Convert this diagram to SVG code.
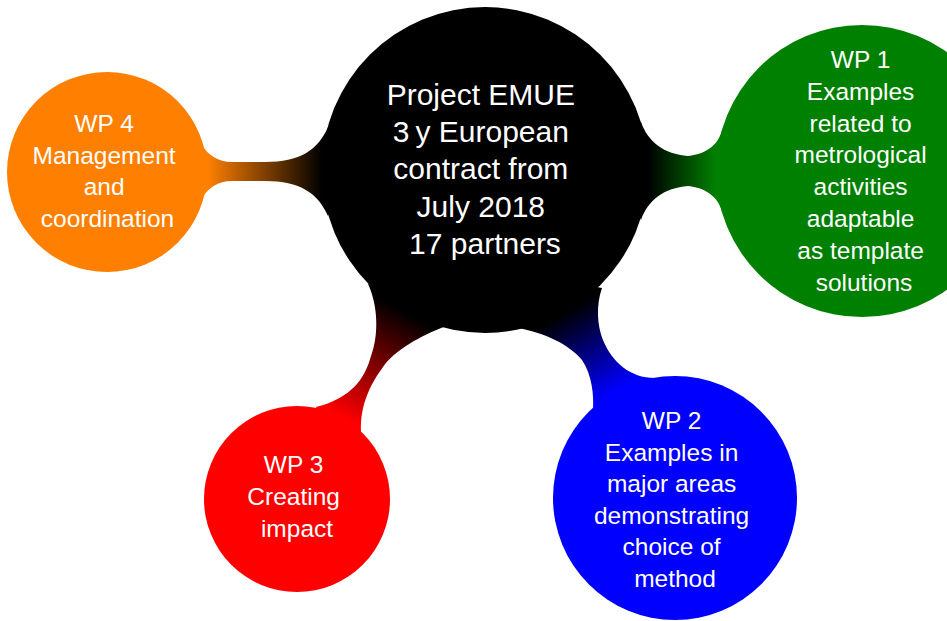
<svg xmlns="http://www.w3.org/2000/svg" width="947" height="621" viewBox="0 0 947 621">
  <defs>
    <style>
      .label { font-family: "Liberation Sans", Arial, sans-serif; fill: #ffffff; text-anchor: middle; }
      .root { font-size: 30px; }
      .child { font-size: 24.5px; }
    </style>
    <!-- colour blends along each connector axis: parent colour to child colour -->
    <linearGradient id="gradOrange" gradientUnits="userSpaceOnUse" x1="322" y1="171" x2="207" y2="171">
      <stop offset="0" stop-color="#000000"/>
      <stop offset="1" stop-color="#ff8000"/>
    </linearGradient>
    <linearGradient id="gradGreen" gradientUnits="userSpaceOnUse" x1="648" y1="171" x2="716" y2="171">
      <stop offset="0" stop-color="#000000"/>
      <stop offset="1" stop-color="#008000"/>
    </linearGradient>
    <linearGradient id="gradRed" gradientUnits="userSpaceOnUse" x1="404" y1="311" x2="343" y2="418">
      <stop offset="0" stop-color="#000000"/>
      <stop offset="1" stop-color="#ff0000"/>
    </linearGradient>
    <linearGradient id="gradBlue" gradientUnits="userSpaceOnUse" x1="567" y1="311" x2="614" y2="392">
      <stop offset="0" stop-color="#000000"/>
      <stop offset="1" stop-color="#0000ff"/>
    </linearGradient>
  </defs>

  <rect width="947" height="621" fill="#ffffff"/>

  <!-- concept connections (drawn under the circles) -->
  <g id="connectors">
    <path id="conn-wp4" fill="url(#gradOrange)"
          d="M 328,127 C 318,150 300,162 265,162 L 232,162 C 218,162 208,155 202,145 L 180,172 L 202,198 C 208,188 218,181 232,181 L 265,181 C 300,181 318,193 328,216 L 350,172 Z"/>
    <path id="conn-wp1" fill="url(#gradGreen)"
          d="M 641,122 C 648,142 664,154 688,156 C 708,154 719,143 722,130 L 740,171 L 722,212 C 719,199 708,188 688,186 C 664,188 648,200 641,220 L 620,171 Z"/>
    <path id="conn-wp3" fill="url(#gradRed)"
          d="M 368,284 C 378,305 379,335 371,356 C 365,378 352,398 316,407 L 330,440 L 361,432 C 360,405 370,385 383,367 C 395,350 420,336 446,326 L 420,300 Z"/>
    <path id="conn-wp2" fill="url(#gradBlue)"
          d="M 518,328 C 545,333 570,345 582,360 C 592,375 594,395 593,410 L 640,420 L 655,378 C 630,378 612,362 603,340 C 597,325 596,305 602,288 L 560,280 Z"/>
  </g>

  <g id="root">
    <circle cx="485" cy="170" r="163" fill="#000000"/>
    <text class="label root" x="485">
      <tspan x="485" y="105">Project EMUE</tspan>
      <tspan x="485" y="142.2">3&#8201;y European</tspan>
      <tspan x="485" y="179.4">contract from</tspan>
      <tspan x="485" y="216.6">July 2018</tspan>
      <tspan x="485" y="253.8">17 partners</tspan>
    </text>
  </g>

  <g id="wp1">
    <circle cx="862" cy="171" r="146" fill="#008000"/>
    <text class="label child">
      <tspan x="864" y="68">WP 1</tspan>
      <tspan x="864" y="99.8">Examples</tspan>
      <tspan x="864" y="131.6">related to</tspan>
      <tspan x="864" y="163.4">metrological</tspan>
      <tspan x="864" y="195.2">activities</tspan>
      <tspan x="864" y="227">adaptable</tspan>
      <tspan x="864" y="258.8">as template</tspan>
      <tspan x="864" y="290.6">solutions</tspan>
    </text>
  </g>

  <g id="wp2">
    <circle cx="675" cy="498" r="122" fill="#0000ff"/>
    <text class="label child">
      <tspan x="675" y="429.3">WP 2</tspan>
      <tspan x="675" y="460.8">Examples in</tspan>
      <tspan x="675" y="492.3">major areas</tspan>
      <tspan x="675" y="523.8">demonstrating</tspan>
      <tspan x="675" y="555.3">choice of</tspan>
      <tspan x="675" y="586.8">method</tspan>
    </text>
  </g>

  <g id="wp3">
    <circle cx="297" cy="499" r="93" fill="#ff0000"/>
    <text class="label child">
      <tspan x="297" y="473.3">WP 3</tspan>
      <tspan x="297" y="505">Creating</tspan>
      <tspan x="297" y="536.7">impact</tspan>
    </text>
  </g>

  <g id="wp4">
    <circle cx="107" cy="172" r="100" fill="#ff8000"/>
    <text class="label child">
      <tspan x="107.5" y="131.7">WP 4</tspan>
      <tspan x="107.5" y="163.5">Management</tspan>
      <tspan x="107.5" y="195.3">and</tspan>
      <tspan x="107.5" y="227.1">coordination</tspan>
    </text>
  </g>
</svg>
